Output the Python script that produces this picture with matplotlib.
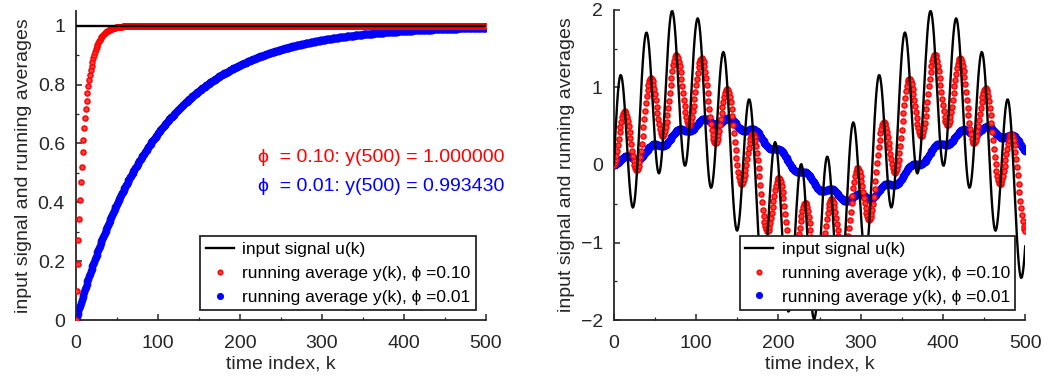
import numpy as np
import matplotlib
matplotlib.use("Agg")
import matplotlib.pyplot as plt
from matplotlib.ticker import MultipleLocator

plt.rcParams['font.family'] = ['Liberation Sans', 'DejaVu Sans']

# ---- data ----
k = np.arange(0, 501)                 # time index
phis = [0.10, 0.01]                   # forgetting factors
step_level = 1.0                      # left: step input
sine_freqs = [0.2, 0.02]              # right: input made of two sines (rad/sample)
sine_amps = [1.0, 1.0]

u_step = np.full(k.shape, step_level)
u_sines = sum(a * np.sin(w * k) for a, w in zip(sine_amps, sine_freqs))


def running_average(u, phi):
    y = np.zeros_like(u, dtype=float)
    for i in range(1, len(u)):
        y[i] = (1 - phi) * y[i - 1] + phi * u[i]
    return y


fig = plt.figure(figsize=(10.44, 3.81), dpi=100)
ax1 = fig.add_axes([0.0728, 0.160, 0.3927, 0.811])
ax2 = fig.add_axes([0.588, 0.160, 0.394, 0.814])

colors = ['red', 'blue']
legend_labels = ['input signal u(k)',
                 'running average y(k), ϕ =0.10',
                 'running average y(k), ϕ =0.01']


def draw(ax, u, ylim, yticks, yminor):
    ys = [running_average(u, p) for p in phis]
    hb, = ax.plot(k, ys[1], 'o', color='blue', ms=5.0, mfc='blue', mec='blue',
                  mew=0.6, zorder=2)
    hr, = ax.plot(k, ys[0], 'o', color='red', ms=3.7, mfc='#ff3c3c', mec='red',
                  mew=1.0, zorder=3)
    hk, = ax.plot(k, u, '-', color='black', lw=1.7, zorder=4)
    ax.set_xlim(0, 500)
    ax.set_ylim(*ylim)
    ax.set_xticks(np.arange(0, 501, 100))
    ax.xaxis.set_minor_locator(MultipleLocator(50))
    ax.set_yticks(yticks)
    ax.yaxis.set_minor_locator(MultipleLocator(yminor))
    for s in ['top', 'right']:
        ax.spines[s].set_visible(False)
    for s in ['left', 'bottom']:
        ax.spines[s].set_linewidth(1.3)
        ax.spines[s].set_color('#262626')
    ax.tick_params(which='major', direction='in', length=4.5, width=1.1,
                   labelsize=14, colors='#262626')
    ax.tick_params(which='minor', direction='in', length=2.5, width=0.9,
                   colors='#262626')
    ax.tick_params(axis='x', which='major', pad=11)
    ax.tick_params(axis='y', which='major', pad=8)
    ax.set_xlabel('time index, k', fontsize=14, color='#262626', labelpad=2)
    ax.set_ylabel('input signal and running averages', fontsize=14,
                  color='#262626', labelpad=4)
    leg = ax.legend([hk, hr, hb], legend_labels, loc='lower right',
                    bbox_to_anchor=(0.976, 0.032), fontsize=12.5,
                    frameon=True, fancybox=False, framealpha=1,
                    edgecolor='#262626', borderpad=0.32, labelspacing=0.5,
                    handlelength=1.6, handletextpad=0.5, borderaxespad=0,
                    markerscale=0.9)
    leg.get_frame().set_linewidth(1.3)
    leg.set_zorder(10)
    return ys


ys_left = draw(ax1, u_step, (0, 1.05), np.arange(0, 1.01, 0.2), 0.1)
ax1.set_yticklabels(['0', '0.2', '0.4', '0.6', '0.8', '1'])
draw(ax2, u_sines, (-2, 2), [-2, -1, 0, 1, 2], 0.5)

for phi, y, c, yy in zip(phis, ys_left, colors, [0.553, 0.454]):
    ax1.text(222, yy, f'ϕ  = {phi:.2f}: y(500) = {y[-1]:.6f}', color=c,
             fontsize=14, ha='left', va='center', clip_on=False)

fig.savefig('out.png', dpi=100)
